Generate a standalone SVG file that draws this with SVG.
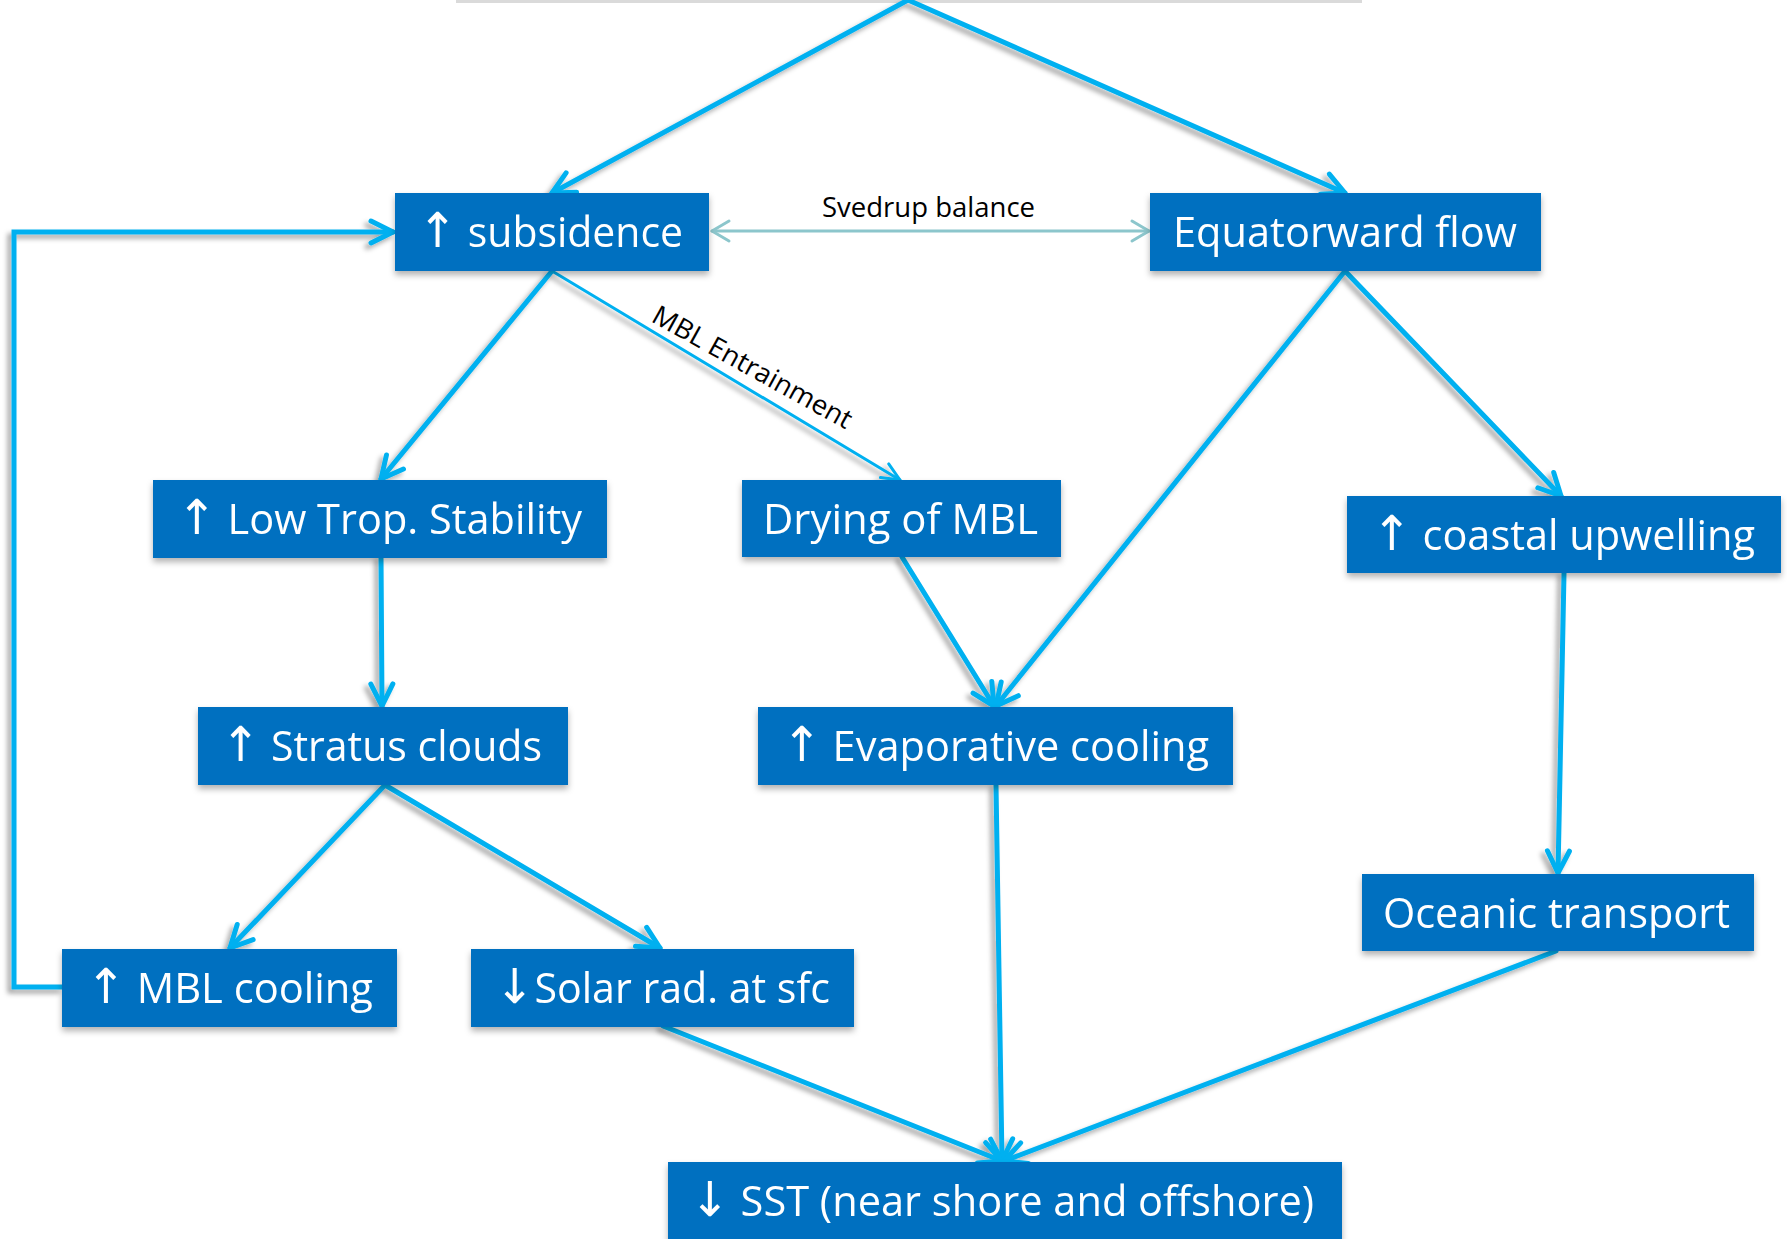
<svg xmlns="http://www.w3.org/2000/svg" width="1787" height="1239" viewBox="0 0 1787 1239">
<defs>
<style>
.box{fill:#0070C0;}
.lbl{font-family:"Open Sans","DejaVu Sans",sans-serif;font-size:42px;fill:#FFFFFF;}
.ar{font-family:"DejaVu Sans",sans-serif;font-size:48px;}
.elbl{font-family:"Open Sans","DejaVu Sans",sans-serif;font-size:27px;fill:#000000;}
.con{fill:none;stroke:#00B0F0;stroke-width:5;stroke-linecap:round;stroke-linejoin:miter;marker-end:url(#ah);}
.thin{fill:none;stroke:#00B0F0;stroke-width:3;stroke-linecap:round;marker-end:url(#ahs);}
.teal{fill:none;stroke:#8CC6CC;stroke-width:3;stroke-linecap:round;marker-start:url(#aht);marker-end:url(#aht);}
</style>
<filter id="bsh" x="-10%" y="-20%" width="120%" height="150%">
<feDropShadow dx="0" dy="4" stdDeviation="3" flood-color="#000" flood-opacity="0.3"/>
</filter>
<filter id="csh" x="-10%" y="-10%" width="120%" height="120%">
<feDropShadow dx="-4" dy="4" stdDeviation="2.5" flood-color="#000" flood-opacity="0.35"/>
</filter>
<marker id="ah" markerUnits="userSpaceOnUse" orient="auto" refX="0" refY="0" markerWidth="30" markerHeight="30" overflow="visible">
<path d="M-22,-11 L0,0 L-22,11" fill="none" stroke="#00B0F0" stroke-width="5" stroke-linecap="round" stroke-linejoin="round"/>
</marker>
<marker id="ahs" markerUnits="userSpaceOnUse" orient="auto" refX="0" refY="0" markerWidth="30" markerHeight="30" overflow="visible">
<path d="M-18,-8 L0,0 L-18,8" fill="none" stroke="#00B0F0" stroke-width="3" stroke-linecap="round" stroke-linejoin="round"/>
</marker>
<marker id="aht" markerUnits="userSpaceOnUse" orient="auto-start-reverse" refX="0" refY="0" markerWidth="30" markerHeight="30" overflow="visible">
<path d="M-17,-10 L0,0 L-17,10" fill="none" stroke="#8CC6CC" stroke-width="3" stroke-linecap="round" stroke-linejoin="round"/>
</marker>
</defs>
<rect width="1787" height="1239" fill="#FFFFFF"/>
<rect id="top-node-edge" x="456" y="0" width="906" height="3" fill="#DADADA"/>

<g id="connectors">
<g filter="url(#csh)">
<path class="con" d="M908,0 L552,193"/>
<path class="con" d="M908,0 L1345,193"/>
<path class="con" d="M62,987 L14,987 L14,232 L393,232"/>
<path class="con" d="M552,271 L381,479"/>
<path class="thin" d="M552,271 L900,480"/>
<path class="con" d="M1345,271 L996,706"/>
<path class="con" d="M1345,271 L1561,496"/>
<path class="con" d="M381,557 L382,706"/>
<path class="con" d="M902,557 L994,706"/>
<path class="con" d="M1564,573 L1558,873"/>
<path class="con" d="M385,785 L230,948"/>
<path class="con" d="M385,785 L660,948"/>
<path class="con" d="M996,785 L1002,1161"/>
<path class="con" d="M663,1026 L1002,1161"/>
<path class="con" d="M1556,951 L1004,1161"/>
</g>
<path class="teal" d="M712,231 L1149,231"/>
<text class="elbl" x="822" y="217" textLength="213" lengthAdjust="spacingAndGlyphs">Svedrup balance</text>
<text class="elbl" transform="translate(650,321) rotate(29)" x="0" y="0" textLength="224" lengthAdjust="spacingAndGlyphs">MBL Entrainment</text>
</g>

<g id="subsidence" filter="url(#bsh)">
<rect class="box" x="395" y="193" width="314" height="78"/>
<text class="lbl" x="418" y="247" textLength="265" lengthAdjust="spacingAndGlyphs"><tspan class="ar">↑</tspan> subsidence</text>
</g>
<g id="equatorward" filter="url(#bsh)">
<rect class="box" x="1150" y="193" width="391" height="78"/>
<text class="lbl" x="1173" y="247" textLength="344" lengthAdjust="spacingAndGlyphs">Equatorward flow</text>
</g>
<g id="lowtrop" filter="url(#bsh)">
<rect class="box" x="153" y="480" width="454" height="78"/>
<text class="lbl" x="177" y="534" textLength="405" lengthAdjust="spacingAndGlyphs"><tspan class="ar">↑</tspan> Low Trop. Stability</text>
</g>
<g id="drying" filter="url(#bsh)">
<rect class="box" x="742" y="480" width="319" height="77"/>
<text class="lbl" x="763" y="534" textLength="275" lengthAdjust="spacingAndGlyphs">Drying of MBL</text>
</g>
<g id="upwelling" filter="url(#bsh)">
<rect class="box" x="1347" y="496" width="434" height="77"/>
<text class="lbl" x="1372" y="550" textLength="383" lengthAdjust="spacingAndGlyphs"><tspan class="ar">↑</tspan> coastal upwelling</text>
</g>
<g id="stratus" filter="url(#bsh)">
<rect class="box" x="198" y="707" width="370" height="78"/>
<text class="lbl" x="221" y="761" textLength="321" lengthAdjust="spacingAndGlyphs"><tspan class="ar">↑</tspan> Stratus clouds</text>
</g>
<g id="evap" filter="url(#bsh)">
<rect class="box" x="758" y="707" width="475" height="78"/>
<text class="lbl" x="782" y="761" textLength="427" lengthAdjust="spacingAndGlyphs"><tspan class="ar">↑</tspan> Evaporative cooling</text>
</g>
<g id="oceanic" filter="url(#bsh)">
<rect class="box" x="1362" y="874" width="392" height="77"/>
<text class="lbl" x="1383" y="928" textLength="347" lengthAdjust="spacingAndGlyphs">Oceanic transport</text>
</g>
<g id="mblcooling" filter="url(#bsh)">
<rect class="box" x="62" y="949" width="335" height="78"/>
<text class="lbl" x="86" y="1003" textLength="287" lengthAdjust="spacingAndGlyphs"><tspan class="ar">↑</tspan> MBL cooling</text>
</g>
<g id="solar" filter="url(#bsh)">
<rect class="box" x="471" y="949" width="383" height="78"/>
<text class="lbl" x="495" y="1003" textLength="335" lengthAdjust="spacingAndGlyphs"><tspan class="ar">↓</tspan>Solar rad. at sfc</text>
</g>
<g id="sst" filter="url(#bsh)">
<rect class="box" x="668" y="1162" width="674" height="80"/>
<text class="lbl" x="690" y="1216" textLength="624" lengthAdjust="spacingAndGlyphs"><tspan class="ar">↓</tspan> SST (near shore and offshore)</text>
</g>
</svg>
